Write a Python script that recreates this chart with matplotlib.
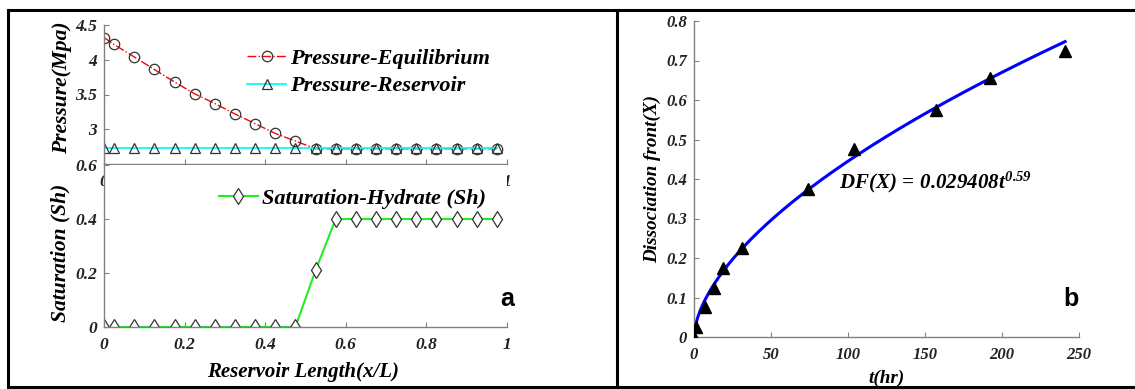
import numpy as np
import matplotlib
matplotlib.use("Agg")
import matplotlib.pyplot as plt
from matplotlib.lines import Line2D

plt.rcParams['font.family'] = ['Liberation Serif', 'DejaVu Serif']
plt.rcParams['mathtext.fontset'] = 'custom'
plt.rcParams['mathtext.rm'] = 'Liberation Serif:bold:italic'
plt.rcParams['mathtext.it'] = 'Liberation Serif:bold:italic'
plt.rcParams['mathtext.bf'] = 'Liberation Serif:bold:italic'

# ---- data: panel a ----
x_pos = [0, 0.025, 0.075, 0.125, 0.175, 0.225, 0.275, 0.325, 0.375, 0.425, 0.475,
         0.525, 0.575, 0.625, 0.675, 0.725, 0.775, 0.825, 0.875, 0.925, 0.975]
p_equilibrium = [4.32, 4.22, 4.04, 3.86, 3.68, 3.51, 3.37, 3.22, 3.08, 2.94, 2.83,
                 2.72, 2.72, 2.72, 2.72, 2.72, 2.72, 2.72, 2.72, 2.72, 2.72]
p_reservoir = [2.73] * 21
s_hydrate = [0, 0, 0, 0, 0, 0, 0, 0, 0, 0, 0,
             0.21, 0.40, 0.40, 0.40, 0.40, 0.40, 0.40, 0.40, 0.40, 0.40]

# ---- data: panel b ----
t_hr = [0, 1, 7, 13, 19, 31, 74, 104, 157, 192, 241]
df_x = [0, 0.025, 0.075, 0.125, 0.175, 0.225, 0.375, 0.475, 0.575, 0.655, 0.725]
fit_a = 0.029408
fit_b = 0.59

W, H = 1135, 389
fig = plt.figure(figsize=(W / 100, H / 100), dpi=100)


def frac(px_left, px_top, px_right, px_bottom):
    return [px_left / W, 1 - px_bottom / H, (px_right - px_left) / W, (px_bottom - px_top) / H]


def serif(size):
    return dict(family='Liberation Serif', weight='bold', style='italic', size=size)


spine_col = '#808080'


def style_axes(ax, tick_size=12):
    ax.set_facecolor('white')
    for s in ['top', 'right']:
        ax.spines[s].set_visible(False)
    for s in ['left', 'bottom']:
        ax.spines[s].set_color(spine_col)
        ax.spines[s].set_linewidth(1.0)
    ax.tick_params(direction='in', length=3.5, width=0.8, color=spine_col)
    ax.tick_params(axis='x', pad=7)
    ax.tick_params(axis='y', pad=5)
    for lab in ax.get_xticklabels() + ax.get_yticklabels():
        lab.set_family('Liberation Serif')
        lab.set_weight('bold')
        lab.set_style('italic')
        lab.set_size(tick_size)
        lab.set_color('#222222')


# upper: pressure
ax_p = fig.add_axes(frac(104, 25, 507, 164))
ax_p.plot(x_pos, p_equilibrium, color='red', ls='-.', lw=1.0, marker='o', ms=7.5,
          mfc='none', mec='#333333', mew=0.9, label='Pressure-Equilibrium')
ax_p.plot(x_pos, p_reservoir, color='cyan', ls='-', lw=1.3, marker='^', ms=7,
          mfc='none', mec='#333333', mew=0.9, label='Pressure-Reservoir')
ax_p.set_xlim(0, 1)
ax_p.set_ylim(2.5, 4.5)
ax_p.set_xticks([0, 0.2, 0.4, 0.6, 0.8, 1.0])
ax_p.set_xticklabels(['0', '', '', '', '', '1'])
ax_p.set_yticks([2.5, 3, 3.5, 4, 4.5])
ax_p.set_yticklabels(['', '3', '3.5', '4', '4.5'])
style_axes(ax_p, 12.5)
ax_p.set_ylabel('Pressure(Mpa)', **serif(15.5))
ax_p.yaxis.set_label_coords(-0.08, 0.55)
ax_p.legend(loc='upper left', bbox_to_anchor=(0.355, 0.83), frameon=False,
            prop=serif(16), handlelength=1.75, handletextpad=0.2,
            borderpad=0, borderaxespad=0, labelspacing=0.3)

# lower: saturation (drawn over the pressure axes)
ax_s = fig.add_axes(frac(104, 165, 507, 327))
ax_s.set_zorder(2)
ax_s.plot(x_pos, s_hydrate, color='#22ee22', ls='-', lw=1.5, marker='d', ms=8,
          mfc='white', mec='#333333', mew=0.9, label='Saturation-Hydrate (Sh)')
ax_s.set_xlim(0, 1)
ax_s.set_ylim(0, 0.6)
ax_s.set_xticks([0, 0.2, 0.4, 0.6, 0.8, 1.0])
ax_s.set_xticklabels(['0', '0.2', '0.4', '0.6', '0.8', '1'])
ax_s.set_yticks([0, 0.2, 0.4, 0.6])
ax_s.set_yticklabels(['0', '0.2', '0.4', '0.6'])
style_axes(ax_s, 12.5)
ax_s.set_ylabel('Saturation (Sh)', **serif(15.5))
ax_s.yaxis.set_label_coords(-0.084, 0.457)
ax_s.set_xlabel('Reservoir Length(x/L)', **serif(15))
ax_s.xaxis.set_label_coords(0.494, -0.215)
ax_s.legend(loc='upper left', bbox_to_anchor=(0.285, 0.855), frameon=False,
            prop=serif(16), handlelength=1.75, handletextpad=0.2,
            borderpad=0, borderaxespad=0)
ax_s.text(1.0, 0.17, 'a', transform=ax_s.transAxes, ha='center', va='center',
          family='Liberation Sans', weight='bold', size=18)

# right: dissociation front
ax_d = fig.add_axes(frac(694, 21, 1079, 337))
t_fit = np.linspace(1, max(t_hr), 300)
ax_d.plot(t_fit, fit_a * t_fit ** fit_b, color='blue', lw=2.2, zorder=2)
ax_d.plot(t_hr, df_x, ls='none', marker='^', ms=9, color='black', zorder=3)
ax_d.set_xlim(0, 250)
ax_d.set_ylim(0, 0.8)
ax_d.set_xticks([0, 50, 100, 150, 200, 250])
ax_d.set_xticklabels(['0', '50', '100', '150', '200', '250'])
ax_d.set_yticks(np.arange(0, 0.81, 0.1))
ax_d.set_yticklabels(['0', '0.1', '0.2', '0.3', '0.4', '0.5', '0.6', '0.7', '0.8'])
style_axes(ax_d, 12)
ax_d.set_ylabel('Dissociation front(X)', **serif(13.8))
ax_d.yaxis.set_label_coords(-0.085, 0.5)
ax_d.set_xlabel('t(hr)', **serif(13.8))
ax_d.xaxis.set_label_coords(0.5, -0.105)
ax_d.text(94, 0.377, r'$DF(X)\,=\,0.029408t^{0.59}$', ha='left', va='baseline', size=15)
ax_d.text(0.98, 0.12, 'b', transform=ax_d.transAxes, ha='center', va='center',
          family='Liberation Sans', weight='bold', size=18)

# table-style frame around the two panels
for (xs, ys) in [([8 / W, 1], [1 - 10 / H, 1 - 10 / H]),
                 ([8 / W, 1], [1 - 387 / H, 1 - 387 / H]),
                 ([8 / W, 8 / W], [1 - 10 / H, 1 - 387 / H]),
                 ([617 / W, 617 / W], [1 - 10 / H, 1 - 387 / H])]:
    fig.add_artist(Line2D(xs, ys, color='black', lw=2.2, solid_capstyle='projecting'))

fig.savefig('out.png', dpi=100)
